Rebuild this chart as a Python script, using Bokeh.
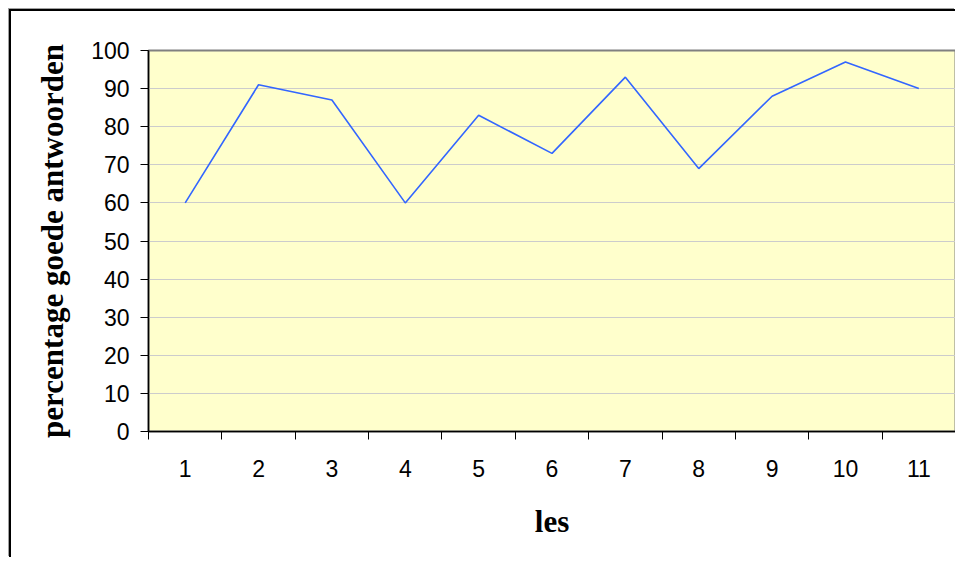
from bokeh.plotting import figure
from bokeh.embed import file_html
from bokeh.resources import INLINE
from bokeh.models import FixedTicker

# data
lessons = [1, 2, 3, 4, 5, 6, 7, 8, 9, 10, 11]
percent_correct = [60, 91, 87, 60, 83, 73, 93, 69, 88, 97, 90]
y_ticks = [0, 10, 20, 30, 40, 50, 60, 70, 80, 90, 100]
x_tick_labels = [str(v) for v in lessons]
boundaries = [v - 0.5 for v in lessons] + [lessons[-1] + 0.5]

p = figure(width=946, height=548, output_backend="svg", toolbar_location=None,
           x_range=(lessons[0] - 0.5, lessons[-1] + 0.5), y_range=(0, 100),
           min_border_left=137, min_border_top=39, min_border_right=2,
           min_border_bottom=128)
p.styles = {"border-top": "2px solid black", "border-left": "2px solid black",
            "box-shadow": "-1px -1px 0 0 #a0a0a0", "margin-left": "9px",
            "margin-top": "9px"}

p.background_fill_color = "#ffffcc"
p.border_fill_color = "white"
p.outline_line_color = "#808080"
p.outline_line_width = 2

p.line(lessons, percent_correct, line_color="#3366ff", line_width=1.6)

# y axis
p.yaxis.ticker = FixedTicker(ticks=y_ticks)
p.yaxis.axis_label = "percentage goede antwoorden"
p.yaxis.axis_label_text_font = "Liberation Serif"
p.yaxis.axis_label_text_font_style = "bold"
p.yaxis.axis_label_text_font_size = "31px"
p.yaxis.axis_label_text_color = "black"
p.yaxis.axis_label_standoff = 18
p.yaxis.major_label_text_font = "Liberation Sans"
p.yaxis.major_label_text_font_size = "23px"
p.yaxis.major_label_text_color = "black"
p.yaxis.major_label_standoff = 11
p.yaxis.major_tick_out = 8
p.yaxis.major_tick_in = 0
p.yaxis.minor_tick_out = 0
p.yaxis.minor_tick_in = 0
p.yaxis.axis_line_color = "black"
p.yaxis.axis_line_width = 1.5
p.yaxis.major_tick_line_color = "black"

# x axis: labels at centers, ticks at boundaries
p.xaxis.ticker = FixedTicker(ticks=lessons, minor_ticks=boundaries)
p.xaxis.major_label_overrides = {v: s for v, s in zip(lessons, x_tick_labels)}
p.xaxis.axis_label = "les"
p.xaxis.axis_label_text_font = "Liberation Serif"
p.xaxis.axis_label_text_font_style = "bold"
p.xaxis.axis_label_text_font_size = "31px"
p.xaxis.axis_label_text_color = "black"
p.xaxis.axis_label_standoff = 24
p.xaxis.major_label_text_font = "Liberation Sans"
p.xaxis.major_label_text_font_size = "23px"
p.xaxis.major_label_text_color = "black"
p.xaxis.major_label_standoff = 20
p.xaxis.major_tick_out = 0
p.xaxis.major_tick_in = 0
p.xaxis.minor_tick_out = 8
p.xaxis.minor_tick_in = 0
p.xaxis.minor_tick_line_color = "black"
p.xaxis.minor_tick_line_width = 1
p.xaxis.axis_line_color = "black"
p.xaxis.axis_line_width = 1.5

p.xgrid.grid_line_color = None
p.ygrid.grid_line_color = "#cccccc"
p.ygrid.grid_line_width = 1

open("out.html", "w").write(file_html(p, INLINE))
